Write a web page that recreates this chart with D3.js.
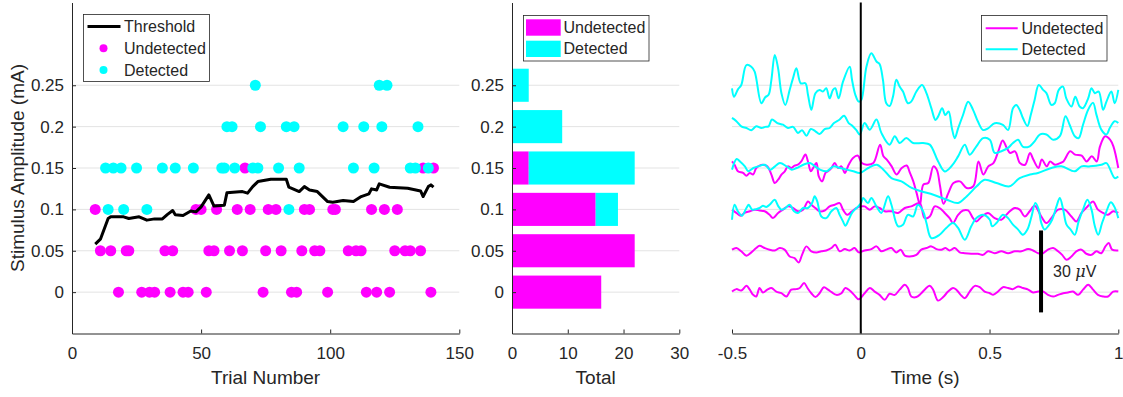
<!DOCTYPE html>
<html>
<head>
<meta charset="utf-8">
<script src="https://cdn.jsdelivr.net/npm/d3@7"></script>
<style>
  body { margin: 0; background: #fff; }
  svg text { font-family: "Liberation Sans", Arial, Helvetica, sans-serif; fill: #262626; }
</style>
</head>
<body>
<svg id="chart" width="1123" height="397"></svg>
<script>
// amplitude levels (mA)
const levels = [0, 0.05, 0.1, 0.15, 0.2, 0.25];
const levelLabels = ["0", "0.05", "0.1", "0.15", "0.2", "0.25"];

// trial numbers per level (index matches levels)
const undetectedTrials = [
  [18, 27, 30, 32, 38, 43, 45, 52, 74, 85, 87, 99, 114, 118, 123, 139],
  [11, 15, 21, 22, 36, 39, 53, 55, 61, 66, 75, 81, 89, 94, 96, 107, 110, 112, 125, 129, 131, 135],
  [9, 48, 50, 56, 64, 69, 76, 79, 90, 92, 101, 102, 116, 121, 126],
  [67, 136, 140],
  [],
  []
];
const detectedTrials = [
  [],
  [],
  [14, 20, 29, 84],
  [13, 16, 19, 25, 35, 40, 47, 58, 59, 63, 70, 72, 80, 88, 109, 117, 131, 133, 138],
  [60, 62, 73, 83, 86, 105, 113, 120, 134],
  [71, 119, 122]
];

// threshold estimate over trials
const thrTrial = [9, 11, 14, 15, 20, 22, 26, 29, 32, 35, 37, 39, 40, 43, 46, 48, 50, 53, 55, 59, 60, 66, 68, 69, 70, 72, 77, 83, 84, 88, 90, 92, 95, 99, 101, 105, 109, 112, 115, 116, 118, 119, 123, 130, 135, 136, 138, 139, 140];
const thrValue = [0.058, 0.064, 0.089, 0.091, 0.091, 0.089, 0.091, 0.087, 0.0885, 0.0885, 0.094, 0.0986, 0.0934, 0.0925, 0.098, 0.097, 0.103, 0.1175, 0.104, 0.105, 0.120, 0.1215, 0.1196, 0.1235, 0.1275, 0.1336, 0.1365, 0.1365, 0.1268, 0.1215, 0.1275, 0.1235, 0.1215, 0.1094, 0.1087, 0.1106, 0.1094, 0.1155, 0.1187, 0.1248, 0.1235, 0.1308, 0.1268, 0.1256, 0.1223, 0.1155, 0.1275, 0.1296, 0.1268];

// totals per level
const undetCounts = [16, 22, 15, 3, 0, 0];
const detCounts = [0, 0, 4, 19, 9, 3];

// average responses [time (s), amplitude (uV)]
const U000 = [[-0.5,0.2],[-0.483,1.1],[-0.464,0.6],[-0.444,2.3],[-0.431,0.9],[-0.418,-1.0],[-0.406,-1.6],[-0.393,1.5],[-0.38,-0.1],[-0.363,0.9],[-0.347,1.5],[-0.328,0.2],[-0.308,-0.4],[-0.289,-1.6],[-0.27,0.9],[-0.25,1.1],[-0.237,1.5],[-0.22,3.3],[-0.207,1.5],[-0.192,-0.4],[-0.176,-1.8],[-0.16,-0.4],[-0.143,1.8],[-0.127,0.9],[-0.112,-0.1],[-0.095,-1.0],[-0.075,-0.4],[-0.06,1.5],[-0.043,0.6],[-0.026,-1.0],[-0.008,-2.6],[0.015,-0.4],[0.035,1.5],[0.054,0.2],[0.073,-1.0],[0.093,-2.8],[0.112,-0.6],[0.132,-1.0],[0.151,0.9],[0.171,2.7],[0.183,1.5],[0.196,-1.6],[0.216,-1.8],[0.235,-0.4],[0.248,0.9],[0.268,2.3],[0.281,0.9],[0.3,-3.1],[0.32,-1.8],[0.339,0.2],[0.358,1.5],[0.371,0.9],[0.388,-1.0],[0.404,-2.2],[0.423,0.2],[0.443,2.3],[0.462,1.8],[0.481,0.2],[0.501,-0.4],[0.514,-1.0],[0.533,0.2],[0.552,1.8],[0.572,1.5],[0.591,1.1],[0.611,2.1],[0.63,1.5],[0.65,0.9],[0.669,-0.1],[0.689,0.2],[0.708,0.2],[0.727,-1.0],[0.747,-1.6],[0.766,-1.0],[0.786,-0.4],[0.805,-0.1],[0.824,0.2],[0.844,-1.0],[0.863,0.9],[0.883,2.7],[0.902,0.9],[0.921,-1.0],[0.941,-1.6],[0.96,-1.6],[0.98,0.2],[1.0,0.2]];
const U005 = [[-0.5,0.4],[-0.483,1.0],[-0.464,-0.2],[-0.444,-1.8],[-0.425,-0.6],[-0.406,1.0],[-0.393,1.8],[-0.373,1.0],[-0.354,0.4],[-0.334,0.1],[-0.315,1.0],[-0.296,0.4],[-0.276,-2.1],[-0.257,-2.7],[-0.241,-4.3],[-0.228,-1.5],[-0.211,1.6],[-0.192,-0.2],[-0.172,-0.6],[-0.153,-0.2],[-0.134,0.1],[-0.114,1.0],[-0.099,2.2],[-0.082,-0.2],[-0.062,0.6],[-0.043,0.1],[-0.024,1.0],[-0.008,-0.6],[0.015,0.1],[0.041,0.6],[0.061,1.6],[0.08,-0.2],[0.099,0.4],[0.119,1.0],[0.138,-0.6],[0.155,0.4],[0.171,-1.8],[0.19,-2.1],[0.216,-1.5],[0.235,0.4],[0.255,1.0],[0.274,1.6],[0.294,0.6],[0.313,0.4],[0.329,1.0],[0.345,0.1],[0.365,1.0],[0.384,-0.6],[0.404,-0.9],[0.429,-1.1],[0.455,-1.1],[0.475,-1.5],[0.494,-0.2],[0.52,-0.9],[0.546,-0.2],[0.572,-0.9],[0.598,-0.2],[0.624,-0.2],[0.65,0.6],[0.669,0.1],[0.689,-0.9],[0.708,-0.9],[0.727,0.4],[0.747,1.0],[0.766,-0.2],[0.782,-1.5],[0.799,-3.3],[0.818,-2.1],[0.837,-0.2],[0.857,0.4],[0.876,-1.1],[0.896,-1.5],[0.915,-0.2],[0.934,-0.9],[0.95,1.6],[0.963,2.8],[0.976,0.4],[1.0,0.1]];
const U010 = [[-0.5,-0.1],[-0.483,-1.3],[-0.466,-2.3],[-0.451,-1.3],[-0.431,-0.7],[-0.412,-0.1],[-0.393,-0.4],[-0.373,-0.7],[-0.354,-2.0],[-0.341,-3.2],[-0.321,-1.3],[-0.302,-0.1],[-0.283,1.1],[-0.263,0.5],[-0.244,-0.7],[-0.224,-0.1],[-0.205,2.9],[-0.192,1.7],[-0.176,0.5],[-0.16,-0.7],[-0.14,-0.4],[-0.121,1.1],[-0.101,1.7],[-0.082,2.3],[-0.069,-0.1],[-0.052,-2.0],[-0.034,-0.7],[-0.017,0.5],[0.0,1.1],[0.015,1.1],[0.035,-0.1],[0.054,1.1],[0.073,0.5],[0.093,-0.7],[0.119,-0.7],[0.145,-1.3],[0.171,0.5],[0.196,1.1],[0.229,2.3],[0.248,-3.2],[0.268,-2.6],[0.287,1.1],[0.306,0.5],[0.326,-1.3],[0.345,-3.2],[0.358,-5.0],[0.378,-2.0],[0.397,-0.4],[0.417,-0.4],[0.436,-3.2],[0.449,-4.4],[0.468,-2.8],[0.494,-1.3],[0.52,-3.2],[0.546,-3.8],[0.572,-1.3],[0.598,0.5],[0.617,-0.1],[0.637,-2.6],[0.656,-0.7],[0.675,1.3],[0.701,-2.6],[0.721,-5.0],[0.74,-3.2],[0.766,-0.1],[0.792,-0.1],[0.818,-2.6],[0.837,-4.4],[0.857,-1.3],[0.883,1.3],[0.902,2.9],[0.921,-0.1],[0.941,-1.3],[0.96,-2.0],[0.98,-0.7],[1.0,-1.3]];
const U015 = [[-0.5,2.4],[-0.49,1.2],[-0.477,-1.2],[-0.457,-1.8],[-0.444,-2.8],[-0.431,-1.8],[-0.418,-2.4],[-0.406,0],[-0.393,0.9],[-0.38,1.2],[-0.363,0.6],[-0.347,-2.4],[-0.334,-5.5],[-0.321,-4.3],[-0.308,-2.4],[-0.295,-1.2],[-0.283,0.6],[-0.27,0],[-0.257,0.9],[-0.244,1.2],[-0.231,2.4],[-0.215,4.9],[-0.205,2.4],[-0.194,-1.2],[-0.185,0],[-0.172,1.8],[-0.163,-3.1],[-0.15,-4.9],[-0.137,-1.8],[-0.127,-1.2],[-0.114,0],[-0.101,1.8],[-0.088,0],[-0.075,0.6],[-0.062,-1.8],[-0.047,1.2],[-0.03,3.7],[-0.011,4.5],[0.004,1.8],[0.023,1.2],[0.049,1.8],[0.075,8.5],[0.088,4.3],[0.101,3.1],[0.12,0.6],[0.139,-2.4],[0.159,0],[0.178,0.9],[0.191,-1.8],[0.204,-4.9],[0.217,-9.2],[0.23,-13.4],[0.243,-6.1],[0.262,-5.5],[0.282,0.6],[0.295,-0.6],[0.308,-6.7],[0.321,-13.1],[0.34,-9.2],[0.36,-5.5],[0.385,-4.9],[0.411,-7.3],[0.437,-6.7],[0.457,2.4],[0.476,-2.4],[0.495,0.6],[0.515,1.8],[0.534,6.1],[0.551,10.1],[0.567,7.3],[0.58,5.5],[0.599,6.1],[0.618,1.8],[0.638,1.2],[0.657,5.5],[0.67,3.1],[0.69,0],[0.703,3.1],[0.722,0.6],[0.735,2.4],[0.754,1.2],[0.774,1.8],[0.787,2.4],[0.813,6.1],[0.832,4.9],[0.858,4.5],[0.877,2.4],[0.897,4.3],[0.916,2.4],[0.929,7.9],[0.949,11.6],[0.968,10.4],[0.981,7.9],[1.0,0]];
const D010 = [[-0.5,-3.8],[-0.49,1.7],[-0.477,-0.7],[-0.461,-2.3],[-0.444,0.5],[-0.435,1.7],[-0.422,-0.1],[-0.406,0.1],[-0.393,0.5],[-0.38,1.3],[-0.367,0.9],[-0.354,1.7],[-0.334,3.5],[-0.321,1.3],[-0.308,-0.1],[-0.293,0.5],[-0.276,1.7],[-0.259,-0.7],[-0.244,-1.3],[-0.224,0.5],[-0.205,0.5],[-0.189,2.3],[-0.179,4.8],[-0.169,2.9],[-0.153,-2.6],[-0.134,-3.2],[-0.114,-0.7],[-0.095,0.5],[-0.082,-2.0],[-0.069,-4.4],[-0.06,-6.0],[-0.047,-3.8],[-0.034,-1.3],[-0.017,0.5],[0.0,2.1],[0.009,4.2],[0.028,2.3],[0.041,4.2],[0.061,1.1],[0.08,-1.3],[0.106,4.8],[0.119,1.7],[0.145,-6.2],[0.164,-5.6],[0.183,-2.0],[0.203,-2.6],[0.222,1.7],[0.242,-0.7],[0.255,-5.0],[0.274,-10.5],[0.306,-9.3],[0.332,-6.8],[0.358,-5.0],[0.378,-6.8],[0.404,-11.1],[0.429,-6.2],[0.449,-3.2],[0.475,-2.0],[0.501,-3.8],[0.51,-6.2],[0.527,-5.0],[0.552,-2.0],[0.572,-3.2],[0.591,-5.6],[0.611,-7.4],[0.63,-9.3],[0.647,-7.4],[0.663,-2.6],[0.678,2.3],[0.691,-0.1],[0.701,-5.0],[0.714,-7.4],[0.727,-6.2],[0.743,-3.8],[0.76,1.1],[0.773,4.2],[0.786,-0.1],[0.799,-5.6],[0.815,-7.4],[0.831,-9.3],[0.846,-4.4],[0.863,-0.1],[0.88,3.5],[0.896,-0.1],[0.909,-6.2],[0.922,-9.3],[0.937,-5.0],[0.954,-0.7],[0.971,2.6],[0.984,1.1],[1.0,-3.2]];
const D015 = [[-0.5,-0.6],[-0.482,3.3],[-0.469,2.4],[-0.45,0.6],[-0.437,-1.2],[-0.417,0],[-0.398,0.6],[-0.372,1.2],[-0.352,-0.6],[-0.333,0.6],[-0.314,1.8],[-0.288,0.6],[-0.268,-0.6],[-0.249,0],[-0.223,1.2],[-0.197,1.8],[-0.178,0.6],[-0.158,-0.6],[-0.132,-1.2],[-0.106,0.6],[-0.081,0],[-0.055,-0.6],[-0.029,-1.2],[-0.003,-1.8],[0.029,0],[0.062,1.2],[0.088,-0.6],[0.119,-3.7],[0.158,-4.9],[0.198,-7.3],[0.235,-8.5],[0.282,-9.8],[0.334,-11.6],[0.378,-12.8],[0.411,-10.4],[0.45,-6.7],[0.481,-4.3],[0.527,-5.5],[0.578,-6.7],[0.617,-3.7],[0.657,-2.4],[0.688,-1.8],[0.74,0],[0.779,0.6],[0.831,-1.2],[0.857,0.6],[0.89,0.6],[0.934,1.2],[0.954,1.8],[0.986,-3.7],[1.0,-3.1]];
const D020 = [[-0.5,3.2],[-0.483,2.0],[-0.464,0.1],[-0.444,-0.5],[-0.425,-1.3],[-0.406,0.1],[-0.386,-0.5],[-0.371,-0.1],[-0.358,0.1],[-0.345,2.6],[-0.324,1.3],[-0.302,0.7],[-0.283,-0.5],[-0.263,-0.1],[-0.244,-2.3],[-0.228,-1.3],[-0.211,-3.3],[-0.194,-0.9],[-0.176,-1.7],[-0.16,-2.7],[-0.14,-0.9],[-0.121,-0.5],[-0.104,1.3],[-0.082,2.6],[-0.065,4.0],[-0.047,1.3],[-0.034,0.4],[-0.017,-1.3],[-0.004,-2.9],[0.015,1.3],[0.035,-1.1],[0.061,2.6],[0.08,-2.3],[0.112,-6.6],[0.132,-3.5],[0.151,-6.0],[0.177,-4.2],[0.203,-6.0],[0.242,-6.0],[0.268,-6.6],[0.3,-12.7],[0.326,-16.4],[0.352,-14.5],[0.378,-10.9],[0.404,-6.6],[0.423,-10.3],[0.449,-7.2],[0.475,-4.2],[0.501,-4.8],[0.52,-9.6],[0.546,-9.0],[0.572,-7.8],[0.591,-6.0],[0.611,-4.8],[0.63,-7.4],[0.656,-7.2],[0.675,-5.4],[0.695,-2.9],[0.721,-2.9],[0.747,-4.8],[0.773,-3.5],[0.795,3.8],[0.811,0.7],[0.831,-3.5],[0.846,-4.2],[0.863,0.7],[0.883,6.2],[0.902,8.7],[0.915,4.4],[0.934,-1.1],[0.954,-2.9],[0.967,-0.5],[0.986,2.0],[1.0,1.3]];
const D025 = [[-0.5,-1.1],[-0.492,-4.2],[-0.477,-1.5],[-0.464,0.1],[-0.444,7.4],[-0.425,6.8],[-0.412,5.0],[-0.386,-6.6],[-0.371,-4.4],[-0.358,-3.5],[-0.347,2.0],[-0.334,11.1],[-0.321,6.2],[-0.308,-2.9],[-0.293,-7.2],[-0.276,-1.7],[-0.263,2.6],[-0.25,6.2],[-0.233,0.7],[-0.215,0.7],[-0.205,-3.5],[-0.192,-9.0],[-0.176,-2.9],[-0.16,-1.7],[-0.147,-2.3],[-0.134,-1.1],[-0.121,-4.8],[-0.108,-1.7],[-0.099,-1.1],[-0.086,-4.8],[-0.069,1.3],[-0.043,6.8],[-0.034,2.0],[-0.021,-3.5],[-0.008,-6.0],[0.002,-5.4],[0.022,6.8],[0.041,11.7],[0.061,8.7],[0.073,7.8],[0.086,2.0],[0.099,-6.6],[0.112,-7.6],[0.125,-4.2],[0.138,2.0],[0.151,-0.5],[0.164,-2.3],[0.183,-6.6],[0.196,-6.0],[0.216,-2.3],[0.238,0.1],[0.255,-2.9],[0.274,-8.4],[0.29,-12.7],[0.3,-11.5],[0.316,-8.4],[0.328,-10.9],[0.341,-9.6],[0.354,-15.8],[0.365,-19.4],[0.378,-15.8],[0.397,-10.9],[0.417,-6.0],[0.436,-9.0],[0.455,-13.3],[0.475,-16.4],[0.494,-15.8],[0.52,-13.9],[0.552,-14.5],[0.572,-16.4],[0.591,-8.4],[0.604,-7.2],[0.617,-9.0],[0.63,-12.1],[0.647,-14.9],[0.66,-10.9],[0.675,-5.4],[0.691,0.1],[0.708,-1.7],[0.721,-2.9],[0.74,-7.2],[0.753,-6.6],[0.769,-1.7],[0.785,-0.5],[0.798,-4.8],[0.818,-7.8],[0.833,-4.2],[0.85,-7.8],[0.863,-8.4],[0.883,-4.8],[0.896,-1.1],[0.909,-2.9],[0.924,-2.3],[0.941,-9.0],[0.954,-6.0],[0.973,-2.3],[0.986,-6.6],[1.0,-1.7]];

const undetTraces = [[0, U000], [0.05, U005], [0.1, U010], [0.15, U015]];
const detTraces = [[0.1, D010], [0.15, D015], [0.2, D020], [0.25, D025]];

const uvPerLevel = 0.0033;   // one microvolt in y units
const scaleBarUv = 30;
const scaleBarTime = 0.7;
const scaleBarBase = -0.0245;

const MAG = "#ff00ff", CYA = "#00ffff", INK = "#262626", GRID = "#e3e3e3";
const tickFont = "17px", labelFont = "19px", legendFont = "16px";

const svg = d3.select("#chart");

const y = d3.scaleLinear().domain([-0.05, 0.35]).range([333.5, 2.5]);
const xTrial = d3.scaleLinear().domain([0, 150]).range([72, 459.3]);
const xTotal = d3.scaleLinear().domain([0, 30]).range([512, 679.3]);
const xTime = d3.scaleLinear().domain([-0.5, 1]).range([732, 1118.3]);

function grid(x) {
  svg.append("g").selectAll("line")
    .data(levels)
    .enter().append("line")
    .attr("x1", x.range()[0]).attr("x2", x.range()[1])
    .attr("y1", d => y(d)).attr("y2", d => y(d))
    .attr("stroke", GRID).attr("stroke-width", 1);
}

function bottomAxis(x, ticks, fmt) {
  const g = svg.append("g")
    .attr("transform", `translate(0,${y.range()[0]})`)
    .call(d3.axisBottom(x).tickValues(ticks).tickFormat(fmt).tickSize(-4).tickSizeOuter(0).tickPadding(13));
  g.select(".domain").attr("stroke", INK);
  g.selectAll(".tick line").attr("stroke", INK);
  g.selectAll("text").style("font-size", tickFont).attr("fill", INK);
  return g;
}

function leftAxis(x) {
  const g = svg.append("g")
    .attr("transform", `translate(${x.range()[0]},0)`)
    .call(d3.axisLeft(y).tickValues(levels).tickFormat((d, i) => levelLabels[i]).tickSize(-4).tickSizeOuter(0).tickPadding(8));
  g.select(".domain").attr("stroke", INK);
  g.selectAll(".tick line").attr("stroke", INK);
  g.selectAll("text").style("font-size", tickFont).attr("fill", INK);
}

function xTitle(x, label) {
  svg.append("text")
    .attr("x", (x.range()[0] + x.range()[1]) / 2)
    .attr("y", 384)
    .attr("text-anchor", "middle")
    .style("font-size", labelFont)
    .text(label);
}

// ---------- panel 1: trials ----------
grid(xTrial);

const dots = svg.append("g");
levels.forEach((lv, i) => {
  dots.selectAll(null).data(undetectedTrials[i]).enter().append("circle")
    .attr("cx", d => xTrial(d)).attr("cy", y(lv)).attr("r", 5.5).attr("fill", MAG);
});
levels.forEach((lv, i) => {
  dots.selectAll(null).data(detectedTrials[i]).enter().append("circle")
    .attr("cx", d => xTrial(d)).attr("cy", y(lv)).attr("r", 5.5).attr("fill", CYA);
});

svg.append("path")
  .datum(thrTrial.map((t, i) => [t, thrValue[i]]))
  .attr("fill", "none").attr("stroke", "#000").attr("stroke-width", 3)
  .attr("stroke-linejoin", "round")
  .attr("d", d3.line().x(d => xTrial(d[0])).y(d => y(d[1])));

bottomAxis(xTrial, [0, 50, 100, 150], d3.format("d"));
leftAxis(xTrial);
xTitle(xTrial, "Trial Number");

svg.append("text")
  .attr("transform", `translate(24,${(y.range()[0] + y.range()[1]) / 2}) rotate(-90)`)
  .attr("text-anchor", "middle")
  .style("font-size", labelFont)
  .text("Stimulus Amplitude (mA)");

// legend 1
const lg1 = svg.append("g");
lg1.append("rect").attr("x", 83.5).attr("y", 14.5).attr("width", 126).attr("height", 67)
  .attr("fill", "#fff").attr("stroke", INK).attr("stroke-width", 0.8);
lg1.append("line").attr("x1", 87.5).attr("x2", 120.5).attr("y1", 26.5).attr("y2", 26.5)
  .attr("stroke", "#000").attr("stroke-width", 3);
lg1.append("circle").attr("cx", 103.5).attr("cy", 48.3).attr("r", 4).attr("fill", MAG);
lg1.append("circle").attr("cx", 103.5).attr("cy", 70).attr("r", 4).attr("fill", CYA);
[["Threshold", 26.5], ["Undetected", 48.3], ["Detected", 70]].forEach(([t, yy]) => {
  lg1.append("text").attr("x", 124).attr("y", yy).attr("dy", "0.35em").style("font-size", legendFont).text(t);
});

// ---------- panel 2: totals ----------
grid(xTotal);
const barH = y(0) - y(0.04);
const bars = svg.append("g");
bars.selectAll(".u").data(levels).enter().append("rect")
  .attr("x", xTotal(0))
  .attr("y", d => y(d) - barH / 2)
  .attr("width", (d, i) => xTotal(undetCounts[i]) - xTotal(0))
  .attr("height", barH)
  .attr("fill", MAG);
bars.selectAll(".d").data(levels).enter().append("rect")
  .attr("x", (d, i) => xTotal(undetCounts[i]))
  .attr("y", d => y(d) - barH / 2)
  .attr("width", (d, i) => xTotal(undetCounts[i] + detCounts[i]) - xTotal(undetCounts[i]))
  .attr("height", barH)
  .attr("fill", CYA);

bottomAxis(xTotal, [0, 10, 20, 30], d3.format("d"));
leftAxis(xTotal);
xTitle(xTotal, "Total");

const lg2 = svg.append("g");
lg2.append("rect").attr("x", 523.5).attr("y", 15.5).attr("width", 125.5).attr("height", 45.5)
  .attr("fill", "#fff").attr("stroke", INK).attr("stroke-width", 0.8);
lg2.append("rect").attr("x", 526).attr("y", 19.3).attr("width", 34.7).attr("height", 16.4).attr("fill", MAG);
lg2.append("rect").attr("x", 526).attr("y", 40.7).attr("width", 34.7).attr("height", 16.3).attr("fill", CYA);
[["Undetected", 27.5], ["Detected", 48.8]].forEach(([t, yy]) => {
  lg2.append("text").attr("x", 563.5).attr("y", yy).attr("dy", "0.35em").style("font-size", legendFont).text(t);
});

// ---------- panel 3: responses ----------
grid(xTime);
const traceLine = lv => d3.line()
  .curve(d3.curveCatmullRom.alpha(0.5))
  .x(d => xTime(d[0]))
  .y(d => y(lv + d[1] * uvPerLevel));

const tr = svg.append("g").attr("fill", "none").attr("stroke-width", 2).attr("stroke-linejoin", "round");
undetTraces.forEach(([lv, data]) => {
  tr.append("path").datum(data).attr("stroke", MAG).attr("d", traceLine(lv));
});
detTraces.forEach(([lv, data]) => {
  tr.append("path").datum(data).attr("stroke", CYA).attr("d", traceLine(lv));
});

svg.append("line")
  .attr("x1", xTime(0)).attr("x2", xTime(0))
  .attr("y1", y(0.35)).attr("y2", y(-0.05))
  .attr("stroke", "#000").attr("stroke-width", 2);

// scale bar
svg.append("line")
  .attr("x1", xTime(scaleBarTime)).attr("x2", xTime(scaleBarTime))
  .attr("y1", y(scaleBarBase)).attr("y2", y(scaleBarBase + scaleBarUv * uvPerLevel))
  .attr("stroke", "#000").attr("stroke-width", 4);
const sbText = svg.append("text")
  .attr("x", xTime(scaleBarTime) + 12)
  .attr("y", y(scaleBarBase + scaleBarUv * uvPerLevel / 2))
  .attr("dy", "0.35em")
  .style("font-size", legendFont)
  .attr("fill", "#000");
sbText.append("tspan").text(scaleBarUv + " ");
sbText.append("tspan").style("font-style", "italic").style("font-family", "'DejaVu Serif', serif").text("\u03bc");
sbText.append("tspan").text("V");

// MATLAB-style tick labels use a plain hyphen for negatives
bottomAxis(xTime, [-0.5, 0, 0.5, 1], d => String(d));
xTitle(xTime, "Time (s)");

const lg3 = svg.append("g");
lg3.append("rect").attr("x", 981.5).attr("y", 15.5).attr("width", 125.5).attr("height", 45.5)
  .attr("fill", "#fff").attr("stroke", INK).attr("stroke-width", 0.8);
lg3.append("line").attr("x1", 985.7).attr("x2", 1017.7).attr("y1", 28.3).attr("y2", 28.3).attr("stroke", MAG).attr("stroke-width", 2);
lg3.append("line").attr("x1", 985.7).attr("x2", 1017.7).attr("y1", 49.3).attr("y2", 49.3).attr("stroke", CYA).attr("stroke-width", 2);
[["Undetected", 28.3], ["Detected", 49.3]].forEach(([t, yy]) => {
  lg3.append("text").attr("x", 1021.5).attr("y", yy).attr("dy", "0.35em").style("font-size", legendFont).text(t);
});
</script>
</body>
</html>
